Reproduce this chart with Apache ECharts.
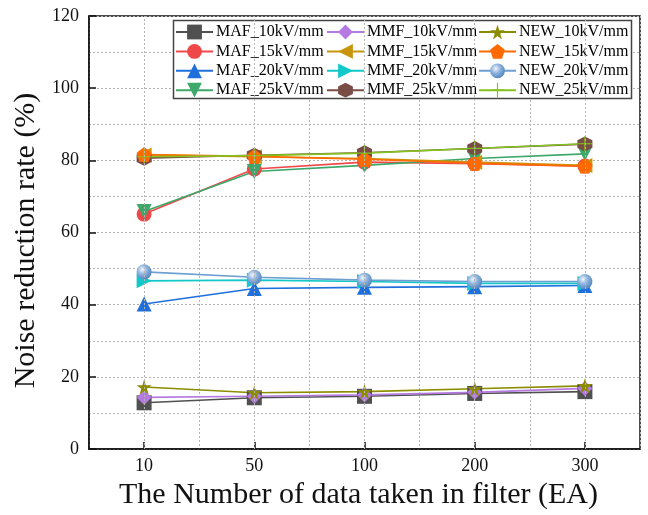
<!DOCTYPE html>
<html><head><meta charset="utf-8">
<script src="https://cdn.jsdelivr.net/npm/echarts@6/dist/echarts.min.js"></script>
<style>html,body{margin:0;padding:0;background:#fff}#c{width:648px;height:515px}</style>
</head><body><div id="c"></div>
<script>
const categories = ['10', '50', '100', '200', '300'];
const yTicks = [0, 20, 40, 60, 80, 100, 120];
const seriesNames = ['MAF_10kV/mm','MAF_15kV/mm','MAF_20kV/mm','MAF_25kV/mm','MMF_10kV/mm','MMF_15kV/mm','MMF_20kV/mm','MMF_25kV/mm','NEW_10kV/mm','NEW_15kV/mm','NEW_20kV/mm','NEW_25kV/mm'];
const MAF_10 = [12.8, 14.2, 14.6, 15.4, 15.9];
const MAF_15 = [65.1, 77.6, 79.5, 79.1, 78.4];
const MAF_20 = [40.2, 44.5, 44.8, 45.0, 45.3];
const MAF_25 = [65.8, 76.9, 78.6, 80.5, 81.8];
const MMF_10 = [14.3, 14.6, 15.0, 15.7, 16.8];
const MMF_15 = [81.5, 81.0, 80.5, 79.5, 78.6];
const MMF_20 = [46.6, 46.8, 46.4, 45.9, 45.9];
const MMF_25 = [80.6, 81.4, 82.1, 83.3, 84.5];
const NEW_10 = [17.2, 15.6, 15.9, 16.7, 17.5];
const NEW_15 = [81.6, 81.1, 80.3, 79.2, 78.4];
const NEW_20 = [49.1, 47.6, 46.8, 46.4, 46.4];
const NEW_25 = [81.0, 81.3, 82.0, 83.3, 84.6];
const values = [MAF_10, MAF_15, MAF_20, MAF_25, MMF_10, MMF_15, MMF_20, MMF_25, NEW_10, NEW_15, NEW_20, NEW_25];

const FONT = 'Liberation Serif';
const gridDash = {color: '#b4b4b4', type: [2, 2], width: 1};
const sphere = {type: 'radial', x: 0.38, y: 0.35, r: 0.7, colorStops: [{offset: 0, color: '#f2f6fc'}, {offset: 0.45, color: '#8fb4de'}, {offset: 1, color: '#4f82bd'}]};
const styles = [
  {color: '#505050', symbol: 'rect'},
  {color: '#f04848', symbol: 'circle'},
  {color: '#1f6fdc', symbol: 'triangle'},
  {color: '#3ca86a', symbol: 'path://M0,0 L100,0 L50,87 Z'},
  {color: '#b47ae0', symbol: 'diamond'},
  {color: '#c8960c', symbol: 'path://M0,50 L87,0 L87,100 Z'},
  {color: '#12c8c8', symbol: 'path://M87,50 L0,0 L0,100 Z'},
  {color: '#7a4c46', symbol: 'path://M50,0 L93,25 L93,75 L50,100 L7,75 L7,25 Z'},
  {color: '#8c8c00', symbol: 'path://M50,0 L61,35 L98,35 L68,57 L79,91 L50,70 L21,91 L32,57 L2,35 L39,35 Z'},
  {color: '#ff6a00', symbol: 'path://M50,0 L98,35 L79,91 L21,91 L2,35 Z'},
  {color: '#6d9fd0', symbol: 'circle', fill: sphere},
  {color: '#84c21e', symbol: 'path://M46,0 L54,0 L54,46 L100,46 L100,54 L54,54 L54,100 L46,100 L46,54 L0,54 L0,46 L46,46 Z'}
];

const series = [{
  type: 'line', data: [], z: 1, silent: true,
  markLine: {silent: true, symbol: 'none', label: {show: false}, animation: false,
    lineStyle: gridDash, data: categories.map(c => ({xAxis: c}))}
}];
seriesNames.forEach((n, i) => {
  const s = styles[i];
  series.push({
    name: n, type: 'line', data: values[i], symbol: s.symbol, symbolSize: 15,
    showAllSymbol: true,
    lineStyle: {color: s.color, width: 1.6},
    itemStyle: {color: s.fill || s.color, borderWidth: 0},
    emphasis: {disabled: true}
  });
});

const legendCommon = {orient: 'vertical', top: 24, itemWidth: 37, itemHeight: 18.5, itemGap: 3.4, padding: 0,
  textStyle: {fontFamily: FONT, fontSize: 16, color: '#000', padding: [0, 0, 0, -2]}};

const chart = echarts.init(document.getElementById('c'), null, {renderer: 'canvas'});
chart.setOption({
  animation: false,
  backgroundColor: '#fff',
  grid: {left: 89, right: 8, top: 16, bottom: 66, show: true, borderColor: '#111', borderWidth: 1.5, backgroundColor: 'transparent'},
  graphic: [{type: 'rect', shape: {x: 173.5, y: 20.5, width: 458, height: 78}, style: {fill: '#fff', stroke: '#444', lineWidth: 1.5}, z: 3}],
  legend: [
    Object.assign({left: 175, data: seriesNames.slice(0, 4)}, legendCommon),
    Object.assign({left: 326, data: seriesNames.slice(4, 8)}, legendCommon),
    Object.assign({left: 478, data: seriesNames.slice(8, 12)}, legendCommon)
  ],
  xAxis: {
    type: 'category', data: categories, boundaryGap: true,
    name: 'The Number of data taken in filter (EA)', nameLocation: 'middle', nameGap: 31,
    nameTextStyle: {fontFamily: FONT, fontSize: 30, color: '#111', padding: [0, 12, 0, 0]},
    axisLine: {lineStyle: {color: '#111', width: 1.5}},
    axisTick: {show: true, inside: true, alignWithLabel: true, length: 7, lineStyle: {color: '#111', width: 1.5}},
    axisLabel: {fontFamily: FONT, fontSize: 18, color: '#111', margin: 8},
    splitLine: {show: true, lineStyle: gridDash}
  },
  yAxis: {
    type: 'value', min: yTicks[0], max: yTicks[yTicks.length - 1], interval: 20,
    name: 'Noise reduction rate (%)', nameLocation: 'middle', nameGap: 46,
    nameTextStyle: {fontFamily: FONT, fontSize: 30, color: '#111', padding: [0, 16, 0, 0]},
    axisLine: {show: true, lineStyle: {color: '#111', width: 1.5}},
    axisTick: {show: true, inside: true, length: 7, lineStyle: {color: '#111', width: 1.5}},
    axisLabel: {fontFamily: FONT, fontSize: 18, color: '#111', margin: 10},
    splitLine: {show: true, lineStyle: gridDash},
    minorTick: {show: false, splitNumber: 2},
    minorSplitLine: {show: true, lineStyle: gridDash}
  },
  series: series
});
</script></body></html>
